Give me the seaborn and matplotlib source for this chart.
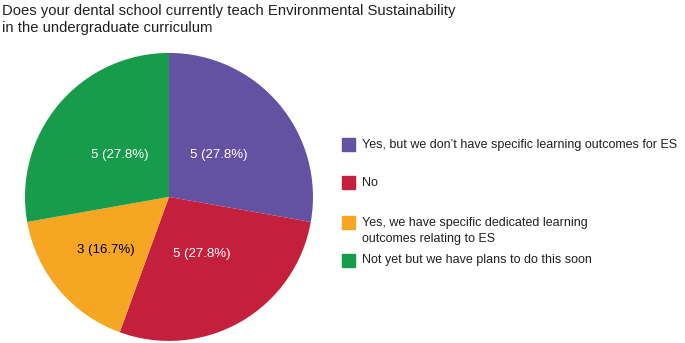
import matplotlib
matplotlib.use('Agg')
import matplotlib.pyplot as plt
import seaborn as sns
import numpy as np
from matplotlib.patches import Rectangle

# data
labels = [
    'Yes, but we don\u2019t have specific learning outcomes for ES',
    'No',
    'Yes, we have specific dedicated learning\noutcomes relating to ES',
    'Not yet but we have plans to do this soon',
]
counts = [5, 5, 3, 5]
colors = ['#6351a2', '#c51f3e', '#f6a623', '#169c4b']
text_colors = ['white', 'white', 'black', 'white']

sns.set_theme(style='white')
plt.rcParams['font.family'] = ['Liberation Sans Narrow', 'Liberation Sans', 'DejaVu Sans']

fig = plt.figure(figsize=(6.85, 3.43), dpi=100)

# pie
ax = fig.add_axes([0.0365, 0.006, 0.4204, 0.8397])
total = sum(counts)
wedges, _ = ax.pie(counts, colors=colors, startangle=90, counterclock=False,
                   wedgeprops=dict(linewidth=0))
ax.set_xlim(-1, 1)
ax.set_ylim(-1, 1)

# label distance from centre, per slice
label_r = [0.45, 0.46, 0.57, 0.45]
for w, c, tc, r in zip(wedges, counts, text_colors, label_r):
    ang = np.deg2rad((w.theta1 + w.theta2) / 2)
    ax.text(r * np.cos(ang), r * np.sin(ang), f'{c} ({c / total * 100:.1f}%)',
            ha='center', va='center', color=tc, fontsize=9.5)

# title
fig.text(0.003, 0.988, 'Does your dental school currently teach Environmental Sustainability\n'
         'in the undergraduate curriculum', ha='left', va='top', fontsize=10.7,
         linespacing=1.25, color='#231f20')

# legend
leg_y = [144.5, 182, 222.5, 260]
for lab, col, y in zip(labels, colors, leg_y):
    fy = 1 - y / 343
    fig.patches.append(Rectangle((342 / 685, fy - 6.5 / 343), 13 / 685, 13 / 343,
                                 transform=fig.transFigure, color=col, figure=fig))
    fig.text(362 / 685, fy + 5.5 / 343, lab, ha='left', va='top', fontsize=9,
             linespacing=1.45, color='#231f20')

fig.savefig('out.png', dpi=100)
